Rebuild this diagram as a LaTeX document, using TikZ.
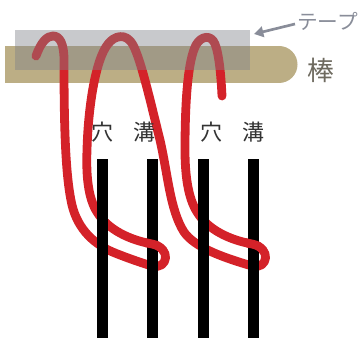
\documentclass[tikz,border=0pt]{standalone}
\usepackage{fontspec}
\newfontfamily\jpfont{Noto Sans CJK JP}
\usepackage{tikz}
\usetikzlibrary{arrows.meta}
\definecolor{ropered}{HTML}{D42229}
\definecolor{sticktan}{HTML}{BCAE85}
\definecolor{tapegray}{HTML}{7F8188}
\definecolor{arrowgray}{HTML}{898D99}
\definecolor{sticktext}{HTML}{6E6A5F}

\begin{document}
\begin{tikzpicture}[
  x=0.75pt, y=-0.75pt,
  lbl/.style={font=\jpfont\fontsize{16.5}{16.5}\selectfont, text=black!80, inner sep=0pt},
  rope/.style={draw=ropered, line width=6.6pt, line cap=round, line join=round},
  bar/.style={fill=black},
  tape/.style={fill=tapegray, fill opacity=0.43},
  tapearrow/.style={draw=arrowgray, line width=2pt, -{Triangle[length=7pt,width=8pt]}},
  ropeline/.style={insert path={
    (36,56) .. controls (41,42) and (47,36) .. (53,36)
    .. controls (60,36) and (64,44) .. (64,60)
    .. controls (64,120) and (65,175) .. (72,205)
    .. controls (78,230) and (95,245) .. (115,253)
    .. controls (130,259) and (145,264) .. (152,266)
    .. controls (168,270) and (172,248) .. (152,244)
    .. controls (130,240) and (108,230) .. (97,212)
    .. controls (88,198) and (86,175) .. (87,150)
    .. controls (88,110) and (95,60) .. (108,44)
    .. controls (114,36) and (126,32) .. (133,45)
    .. controls (141,60) and (150,100) .. (160,140)
    .. controls (168,175) and (170,210) .. (184,232)
    .. controls (195,248) and (225,258) .. (252,266)
    .. controls (268,270) and (272,248) .. (252,244)
    .. controls (230,240) and (208,230) .. (197,212)
    .. controls (188,198) and (185,175) .. (185,150)
    .. controls (185,100) and (188,60) .. (196,45)
    .. controls (201,36) and (211,34) .. (215,44)
    .. controls (219,54) and (221,75) .. (222,96)}}
]
\useasboundingbox (0,0) rectangle (360,338);

% stick, rope, tape
\fill[sticktan] (5,46) rectangle (279,83);
\fill[sticktan] (279,64.5) circle[radius=18.5];
\draw[rope, ropeline];
\fill[tape] (15,30) rectangle (250,70);

% posts
\foreach \px in {102.5,152.5,203.5,253.5}
  \fill[bar] (\px-5.5,159) rectangle (\px+5.5,338);
\foreach \px in {152.5,253.5}{
  \begin{scope}
    \clip (\px-7.5,234) rectangle (\px+7.5,253);
    \draw[rope, ropeline];
  \end{scope}
}

\node[lbl] (hole1) at (102,132) {穴};
\node[lbl] (groove1) at (144,132) {溝};
\node[lbl] (hole2) at (211,132) {穴};
\node[lbl] (groove2) at (253,132) {溝};
\node[lbl, font=\jpfont\fontsize{20}{20}\selectfont, text=sticktext] (sticklbl) at (321,70) {棒};
\node[lbl, font=\jpfont\fontsize{15.5}{15.5}\selectfont, text=arrowgray, anchor=west] (tapelbl) at (297,21) {テープ};
\coordinate (tapeedge) at (254,34);
\draw[tapearrow] (tapelbl.west) ++(-2,3) -- (tapeedge);
\end{tikzpicture}
\end{document}
